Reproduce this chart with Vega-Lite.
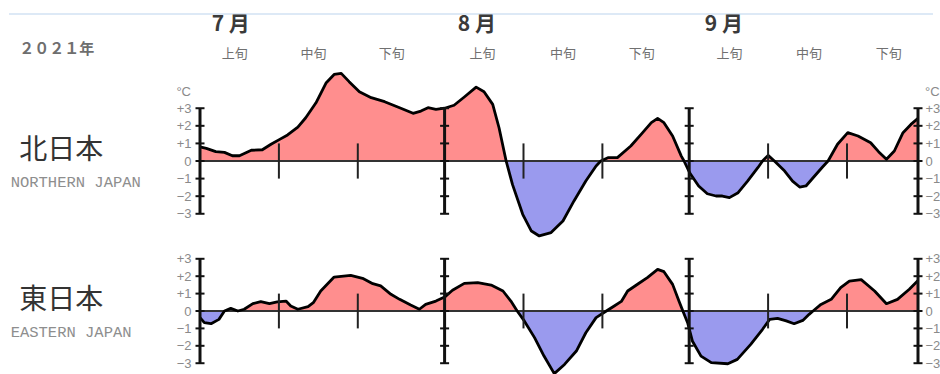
{
  "$schema": "https://vega.github.io/schema/vega-lite/v6.json",
  "padding": {"left": 8, "top": 13, "right": 0, "bottom": 0},
  "bounds": "flush",
  "spacing": 0,
  "config": {"view": {"stroke": null}, "concat": {"spacing": 0}},
  "datasets": {
    "north": [
      {"d": 0, "v": 0.8}, {"d": 0.8, "v": 0.72}, {"d": 2.0, "v": 0.53}, {"d": 3.1, "v": 0.49}, {"d": 4.1, "v": 0.3},
      {"d": 5.0, "v": 0.3}, {"d": 6.5, "v": 0.61}, {"d": 7.9, "v": 0.64}, {"d": 9.0, "v": 0.95}, {"d": 10.1, "v": 1.23},
      {"d": 11.1, "v": 1.48}, {"d": 12.4, "v": 1.93}, {"d": 13.4, "v": 2.46}, {"d": 14.7, "v": 3.31}, {"d": 16.0, "v": 4.45},
      {"d": 17.0, "v": 4.92}, {"d": 17.9, "v": 4.98}, {"d": 18.9, "v": 4.51}, {"d": 20.2, "v": 3.94}, {"d": 21.7, "v": 3.6},
      {"d": 23.4, "v": 3.37}, {"d": 25.3, "v": 3.03}, {"d": 27.0, "v": 2.71}, {"d": 28.0, "v": 2.84}, {"d": 28.9, "v": 3.03},
      {"d": 29.9, "v": 2.94}, {"d": 31.0, "v": 3.0}, {"d": 32.2, "v": 3.17}, {"d": 33.5, "v": 3.64}, {"d": 35.0, "v": 4.2},
      {"d": 36.0, "v": 3.94}, {"d": 37.1, "v": 3.22}, {"d": 37.9, "v": 1.89}, {"d": 38.8, "v": 0}, {"d": 39.6, "v": -1.33},
      {"d": 40.9, "v": -3.03}, {"d": 42.0, "v": -3.98}, {"d": 43.0, "v": -4.26}, {"d": 44.5, "v": -4.07}, {"d": 46.0, "v": -3.41},
      {"d": 47.4, "v": -2.27}, {"d": 48.9, "v": -1.14}, {"d": 50.2, "v": -0.28}, {"d": 50.8, "v": 0}, {"d": 51.7, "v": 0.19},
      {"d": 52.9, "v": 0.19}, {"d": 54.6, "v": 0.85}, {"d": 56.1, "v": 1.61}, {"d": 57.2, "v": 2.18}, {"d": 58.0, "v": 2.42},
      {"d": 58.8, "v": 2.18}, {"d": 59.9, "v": 1.42}, {"d": 61.0, "v": 0.28}, {"d": 61.35, "v": 0}, {"d": 62.1, "v": -0.7},
      {"d": 63.2, "v": -1.42}, {"d": 64.3, "v": -1.86}, {"d": 65.4, "v": -1.99}, {"d": 66.2, "v": -1.99}, {"d": 67.1, "v": -2.08},
      {"d": 68.2, "v": -1.8}, {"d": 69.4, "v": -1.14}, {"d": 70.7, "v": -0.38}, {"d": 71.3, "v": 0}, {"d": 72.0, "v": 0.32},
      {"d": 72.8, "v": 0}, {"d": 74.1, "v": -0.57}, {"d": 75.1, "v": -1.14}, {"d": 76.0, "v": -1.48}, {"d": 76.8, "v": -1.42},
      {"d": 77.9, "v": -0.85}, {"d": 78.9, "v": -0.34}, {"d": 79.6, "v": 0}, {"d": 80.8, "v": 0.95}, {"d": 82.1, "v": 1.61},
      {"d": 83.4, "v": 1.42}, {"d": 85.0, "v": 1.04}, {"d": 86.0, "v": 0.53}, {"d": 87.0, "v": 0.1}, {"d": 88.0, "v": 0.57},
      {"d": 89.1, "v": 1.61}, {"d": 90.1, "v": 2.08}, {"d": 91.0, "v": 2.42}
    ],
    "south": [
      {"d": 0, "v": -0.38}, {"d": 0.55, "v": -0.67}, {"d": 1.4, "v": -0.73}, {"d": 2.4, "v": -0.48}, {"d": 3.1, "v": 0},
      {"d": 3.9, "v": 0.15}, {"d": 4.8, "v": 0}, {"d": 5.6, "v": 0.1}, {"d": 6.7, "v": 0.42}, {"d": 7.7, "v": 0.54},
      {"d": 8.8, "v": 0.42}, {"d": 9.8, "v": 0.52}, {"d": 10.9, "v": 0.57}, {"d": 11.5, "v": 0.29}, {"d": 12.4, "v": 0.1},
      {"d": 13.7, "v": 0.25}, {"d": 14.4, "v": 0.5}, {"d": 15.3, "v": 1.15}, {"d": 17.0, "v": 1.95}, {"d": 19.1, "v": 2.05},
      {"d": 20.6, "v": 1.88}, {"d": 21.9, "v": 1.57}, {"d": 22.9, "v": 1.44}, {"d": 24.2, "v": 0.96}, {"d": 25.3, "v": 0.67},
      {"d": 26.7, "v": 0.34}, {"d": 27.8, "v": 0.1}, {"d": 28.6, "v": 0.38}, {"d": 29.9, "v": 0.57}, {"d": 31.0, "v": 0.8},
      {"d": 32.0, "v": 1.19}, {"d": 33.5, "v": 1.59}, {"d": 35.2, "v": 1.63}, {"d": 36.9, "v": 1.49}, {"d": 38.4, "v": 1.15},
      {"d": 39.4, "v": 0.57}, {"d": 40.2, "v": 0}, {"d": 41.1, "v": -0.57}, {"d": 42.4, "v": -1.53}, {"d": 43.6, "v": -2.59},
      {"d": 44.9, "v": -3.6}, {"d": 46.2, "v": -3.07}, {"d": 47.7, "v": -2.3}, {"d": 48.9, "v": -1.25}, {"d": 50.2, "v": -0.38},
      {"d": 51.5, "v": 0}, {"d": 52.5, "v": 0.29}, {"d": 53.4, "v": 0.55}, {"d": 54.2, "v": 1.15}, {"d": 55.5, "v": 1.55},
      {"d": 56.7, "v": 1.92}, {"d": 58.0, "v": 2.39}, {"d": 58.8, "v": 2.26}, {"d": 59.9, "v": 1.53}, {"d": 60.7, "v": 0.57},
      {"d": 61.2, "v": 0}, {"d": 61.8, "v": -0.67}, {"d": 62.4, "v": -1.72}, {"d": 63.5, "v": -2.59}, {"d": 64.8, "v": -2.97},
      {"d": 66.9, "v": -3.03}, {"d": 68.1, "v": -2.78}, {"d": 69.8, "v": -1.92}, {"d": 71.3, "v": -1.05}, {"d": 72.2, "v": -0.48},
      {"d": 73.2, "v": -0.42}, {"d": 74.3, "v": -0.57}, {"d": 75.3, "v": -0.73}, {"d": 76.4, "v": -0.54}, {"d": 77.2, "v": -0.19},
      {"d": 77.7, "v": 0}, {"d": 78.7, "v": 0.38}, {"d": 80.0, "v": 0.67}, {"d": 81.2, "v": 1.34}, {"d": 82.3, "v": 1.72},
      {"d": 83.8, "v": 1.8}, {"d": 85.5, "v": 1.15}, {"d": 87.0, "v": 0.42}, {"d": 88.4, "v": 0.67}, {"d": 89.9, "v": 1.25},
      {"d": 91.0, "v": 1.75}
    ],
    "bounds": [{"d": 0}, {"d": 31}, {"d": 62}, {"d": 91}],
    "dekads": [{"d": 10}, {"d": 20}, {"d": 41}, {"d": 51}, {"d": 72}, {"d": 82}],
    "crosses": [
      {"d": 0, "v": -3}, {"d": 0, "v": -2}, {"d": 0, "v": -1}, {"d": 0, "v": 0}, {"d": 0, "v": 1}, {"d": 0, "v": 2}, {"d": 0, "v": 3},
      {"d": 31, "v": -3}, {"d": 31, "v": -2}, {"d": 31, "v": -1}, {"d": 31, "v": 0}, {"d": 31, "v": 1}, {"d": 31, "v": 2}, {"d": 31, "v": 3},
      {"d": 62, "v": -3}, {"d": 62, "v": -2}, {"d": 62, "v": -1}, {"d": 62, "v": 0}, {"d": 62, "v": 1}, {"d": 62, "v": 2}, {"d": 62, "v": 3},
      {"d": 91, "v": -3}, {"d": 91, "v": -2}, {"d": 91, "v": -1}, {"d": 91, "v": 0}, {"d": 91, "v": 1}, {"d": 91, "v": 2}, {"d": 91, "v": 3}
    ],
    "months": [{"d": 3.9, "label": "7 月"}, {"d": 35.1, "label": "8 月"}, {"d": 66.4, "label": "9 月"}],
    "dekadLabels": [
      {"d": 4.4, "label": "上旬"}, {"d": 14.4, "label": "中旬"}, {"d": 24.3, "label": "下旬"},
      {"d": 35.8, "label": "上旬"}, {"d": 46.0, "label": "中旬"}, {"d": 56.0, "label": "下旬"},
      {"d": 67.1, "label": "上旬"}, {"d": 77.2, "label": "中旬"}, {"d": 87.3, "label": "下旬"}
    ]
  },
  "vconcat": [
    {
      "width": 718,
      "height": 22,
      "data": {"name": "months"},
      "layer": [
        {
          "mark": {"type": "rule", "color": "#dde9f6", "strokeWidth": 1.5},
          "encoding": {
            "x": {"datum": -24.2, "type": "quantitative", "scale": {"domain": [0, 91], "nice": false, "zero": false}, "axis": null},
            "x2": {"datum": 92.9},
            "y": {"datum": 1, "type": "quantitative", "scale": {"domain": [0, 1]}, "axis": null}
          }
        },
        {
          "mark": {"type": "text", "font": "Noto Sans CJK JP", "fontWeight": "bold", "fontSize": 21, "color": "#3a3a3a", "align": "center", "baseline": "middle"},
          "encoding": {
            "x": {"field": "d", "type": "quantitative", "scale": {"domain": [0, 91], "nice": false, "zero": false}, "axis": null},
            "text": {"field": "label"}
          }
        }
      ]
    },
    {
      "width": 718,
      "height": 30,
      "layer": [
        {
          "data": {"name": "dekadLabels"},
          "mark": {"type": "text", "font": "Noto Sans CJK JP", "fontSize": 13, "color": "#707070", "align": "center", "baseline": "middle", "dy": 3},
          "encoding": {
            "x": {"field": "d", "type": "quantitative", "scale": {"domain": [0, 91], "nice": false, "zero": false}, "axis": null},
            "text": {"field": "label"}
          }
        },
        {
          "data": {"values": [{"label": "２０２１年"}]},
          "mark": {"type": "text", "font": "Noto Sans CJK JP", "fontWeight": "bold", "fontSize": 15, "color": "#6e6e6e", "align": "left", "baseline": "middle", "dy": -2},
          "encoding": {
            "x": {"datum": -22.9, "type": "quantitative", "scale": {"domain": [0, 91], "nice": false, "zero": false}, "axis": null},
            "text": {"field": "label"}
          }
        }
      ]
    },
    {
      "width": 718,
      "height": 174,
      "resolve": {"axis": {"y": "independent"}},
      "layer": [
        {
          "data": {"name": "north"},
          "transform": [{"filter": "datum.v >= 0"}],
          "mark": {"type": "area", "color": "#ff8e8e", "opacity": 1},
          "encoding": {
            "x": {"field": "d", "type": "quantitative", "scale": {"domain": [0, 91], "nice": false, "zero": false}, "axis": null},
            "y": {"field": "v", "type": "quantitative", "scale": {"domain": [-4.49, 5.4], "nice": false, "zero": false},
              "axis": {"orient": "left", "values": [-3, -2, -1, 0, 1, 2, 3], "labelExpr": "datum.value > 0 ? '+' + datum.label : datum.label", "domain": false, "ticks": false, "grid": false, "title": null, "labelPadding": 9, "labelFont": "Liberation Sans", "labelFontSize": 13, "labelColor": "#8a8a8a"}}
          }
        },
        {
          "data": {"name": "north"},
          "transform": [{"filter": "datum.v <= 0"}],
          "mark": {"type": "area", "color": "#9a9aee", "opacity": 1},
          "encoding": {
            "x": {"field": "d", "type": "quantitative", "scale": {"domain": [0, 91], "nice": false, "zero": false}, "axis": null},
            "y": {"field": "v", "type": "quantitative", "scale": {"domain": [-4.49, 5.4], "nice": false, "zero": false},
              "axis": {"orient": "right", "values": [-3, -2, -1, 0, 1, 2, 3], "labelExpr": "datum.value > 0 ? '+' + datum.label : datum.label", "domain": false, "ticks": false, "grid": false, "title": null, "labelPadding": 7, "labelFont": "Liberation Sans", "labelFontSize": 13, "labelColor": "#8a8a8a"}}
          }
        },
        {
          "data": {"values": [{}]},
          "mark": {"type": "rule", "color": "#333333", "strokeWidth": 2},
          "encoding": {"y": {"datum": 0, "type": "quantitative", "axis": null}}
        },
        {
          "data": {"name": "north"},
          "mark": {"type": "line", "color": "#000000", "strokeWidth": 2.8, "strokeJoin": "round"},
          "encoding": {
            "x": {"field": "d", "type": "quantitative", "axis": null},
            "y": {"field": "v", "type": "quantitative", "axis": null}
          }
        },
        {
          "data": {"name": "bounds"},
          "mark": {"type": "rule", "color": "#111111", "strokeWidth": 3},
          "encoding": {
            "x": {"field": "d", "type": "quantitative", "axis": null},
            "y": {"datum": -3, "type": "quantitative", "axis": null},
            "y2": {"datum": 3}
          }
        },
        {
          "data": {"name": "crosses"},
          "mark": {"type": "tick", "orient": "horizontal", "size": 9, "thickness": 2, "color": "#111111", "opacity": 1},
          "encoding": {
            "x": {"field": "d", "type": "quantitative", "axis": null},
            "y": {"field": "v", "type": "quantitative", "axis": null}
          }
        },
        {
          "data": {"name": "dekads"},
          "mark": {"type": "rule", "color": "#222222", "strokeWidth": 2},
          "encoding": {
            "x": {"field": "d", "type": "quantitative", "axis": null},
            "y": {"datum": -1, "type": "quantitative", "axis": null},
            "y2": {"datum": 1}
          }
        },
        {
          "data": {"values": [{"t": "°C"}]},
          "mark": {"type": "text", "font": "Liberation Sans", "fontSize": 13, "color": "#8a8a8a", "align": "right", "baseline": "middle", "dx": -9},
          "encoding": {
            "x": {"datum": 0, "type": "quantitative", "axis": null},
            "y": {"datum": 3.95, "type": "quantitative", "axis": null},
            "text": {"field": "t"}
          }
        },
        {
          "data": {"values": [{"t": "°C"}]},
          "mark": {"type": "text", "font": "Liberation Sans", "fontSize": 13, "color": "#8a8a8a", "align": "left", "baseline": "middle", "dx": 7},
          "encoding": {
            "x": {"datum": 91, "type": "quantitative", "axis": null},
            "y": {"datum": 3.95, "type": "quantitative", "axis": null},
            "text": {"field": "t"}
          }
        },
        {
          "data": {"values": [{"t": "北日本"}]},
          "mark": {"type": "text", "font": "Noto Sans CJK JP", "fontSize": 28, "color": "#333333", "align": "left", "baseline": "middle"},
          "encoding": {
            "x": {"datum": -22.9, "type": "quantitative", "axis": null},
            "y": {"datum": 0.57, "type": "quantitative", "axis": null},
            "text": {"field": "t"}
          }
        },
        {
          "data": {"values": [{"t": "NORTHERN JAPAN"}]},
          "mark": {"type": "text", "font": "Liberation Mono", "fontSize": 15.5, "color": "#8e8e8e", "align": "left", "baseline": "middle"},
          "encoding": {
            "x": {"datum": -24.0, "type": "quantitative", "axis": null},
            "y": {"datum": -1.2, "type": "quantitative", "axis": null},
            "text": {"field": "t"}
          }
        }
      ]
    },
    {
      "width": 718,
      "height": 134,
      "resolve": {"axis": {"y": "independent"}},
      "layer": [
        {
          "data": {"name": "south"},
          "transform": [{"filter": "datum.v >= 0"}],
          "mark": {"type": "area", "color": "#ff8e8e", "opacity": 1},
          "encoding": {
            "x": {"field": "d", "type": "quantitative", "scale": {"domain": [0, 91], "nice": false, "zero": false}, "axis": null},
            "y": {"field": "v", "type": "quantitative", "scale": {"domain": [-3.62, 4.08], "nice": false, "zero": false},
              "axis": {"orient": "left", "values": [-3, -2, -1, 0, 1, 2, 3], "labelExpr": "datum.value > 0 ? '+' + datum.label : datum.label", "domain": false, "ticks": false, "grid": false, "title": null, "labelPadding": 9, "labelFont": "Liberation Sans", "labelFontSize": 13, "labelColor": "#8a8a8a"}}
          }
        },
        {
          "data": {"name": "south"},
          "transform": [{"filter": "datum.v <= 0"}],
          "mark": {"type": "area", "color": "#9a9aee", "opacity": 1},
          "encoding": {
            "x": {"field": "d", "type": "quantitative", "scale": {"domain": [0, 91], "nice": false, "zero": false}, "axis": null},
            "y": {"field": "v", "type": "quantitative", "scale": {"domain": [-3.62, 4.08], "nice": false, "zero": false},
              "axis": {"orient": "right", "values": [-3, -2, -1, 0, 1, 2, 3], "labelExpr": "datum.value > 0 ? '+' + datum.label : datum.label", "domain": false, "ticks": false, "grid": false, "title": null, "labelPadding": 7, "labelFont": "Liberation Sans", "labelFontSize": 13, "labelColor": "#8a8a8a"}}
          }
        },
        {
          "data": {"values": [{}]},
          "mark": {"type": "rule", "color": "#333333", "strokeWidth": 2},
          "encoding": {"y": {"datum": 0, "type": "quantitative", "axis": null}}
        },
        {
          "data": {"name": "south"},
          "mark": {"type": "line", "color": "#000000", "strokeWidth": 2.8, "strokeJoin": "round"},
          "encoding": {
            "x": {"field": "d", "type": "quantitative", "axis": null},
            "y": {"field": "v", "type": "quantitative", "axis": null}
          }
        },
        {
          "data": {"name": "bounds"},
          "mark": {"type": "rule", "color": "#111111", "strokeWidth": 3},
          "encoding": {
            "x": {"field": "d", "type": "quantitative", "axis": null},
            "y": {"datum": -3, "type": "quantitative", "axis": null},
            "y2": {"datum": 3}
          }
        },
        {
          "data": {"name": "crosses"},
          "mark": {"type": "tick", "orient": "horizontal", "size": 9, "thickness": 2, "color": "#111111", "opacity": 1},
          "encoding": {
            "x": {"field": "d", "type": "quantitative", "axis": null},
            "y": {"field": "v", "type": "quantitative", "axis": null}
          }
        },
        {
          "data": {"name": "dekads"},
          "mark": {"type": "rule", "color": "#222222", "strokeWidth": 2},
          "encoding": {
            "x": {"field": "d", "type": "quantitative", "axis": null},
            "y": {"datum": -1, "type": "quantitative", "axis": null},
            "y2": {"datum": 1}
          }
        },
        {
          "data": {"values": [{"t": "東日本"}]},
          "mark": {"type": "text", "font": "Noto Sans CJK JP", "fontSize": 28, "color": "#333333", "align": "left", "baseline": "middle"},
          "encoding": {
            "x": {"datum": -22.9, "type": "quantitative", "axis": null},
            "y": {"datum": 0.57, "type": "quantitative", "axis": null},
            "text": {"field": "t"}
          }
        },
        {
          "data": {"values": [{"t": "EASTERN JAPAN"}]},
          "mark": {"type": "text", "font": "Liberation Mono", "fontSize": 15.5, "color": "#8e8e8e", "align": "left", "baseline": "middle"},
          "encoding": {
            "x": {"datum": -24.0, "type": "quantitative", "axis": null},
            "y": {"datum": -1.2, "type": "quantitative", "axis": null},
            "text": {"field": "t"}
          }
        }
      ]
    }
  ]
}
